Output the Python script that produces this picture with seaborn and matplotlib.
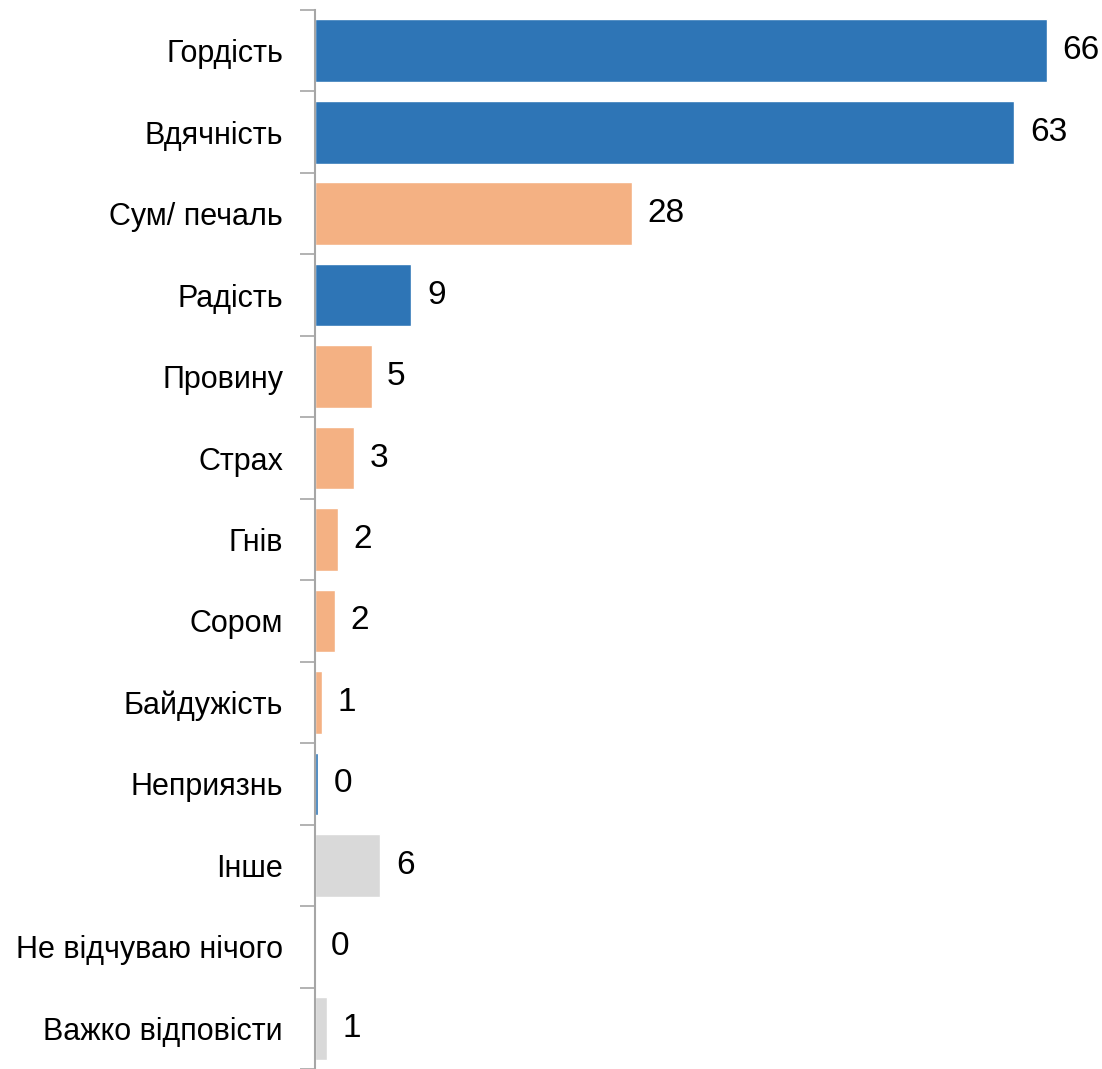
import numpy as np
import pandas as pd
import seaborn as sns
import matplotlib.pyplot as plt
from matplotlib import font_manager

# ---------------------- Data ------------------------
categories = ["Гордість", "Вдячність", "Сум/ печаль", "Радість", "Провину", "Страх",
              "Гнів", "Сором", "Байдужість", "Неприязнь", "Інше",
              "Не відчуваю нічого", "Важко відповісти"]
values = [66.0, 63.1, 28.6, 8.7, 5.1, 3.5, 2.1, 1.8, 0.6, 0.3, 5.9, 0.0, 1.1]
value_labels = ["66", "63", "28", "9", "5", "3", "2", "2", "1", "0", "6", "0", "1"]
groups = ["pos", "pos", "neg", "pos", "neg", "neg", "neg", "neg", "neg", "pos",
          "other", "other", "other"]

colors = {"pos": "#2E75B6", "neg": "#F4B183", "other": "#D9D9D9"}

df = pd.DataFrame({"category": categories, "value": values, "group": groups})

# ---------------------- Style -----------------------
sns.set_style("white")
names = {f.name for f in font_manager.fontManager.ttflist}
if "Liberation Sans Narrow" in names:
    fam, fs, fs_val = "Liberation Sans Narrow", 25, 26
else:
    fam, fs, fs_val = "Liberation Sans", 22, 24
plt.rcParams["font.family"] = [fam, "DejaVu Sans"]

fig = plt.figure(figsize=(11.02, 10.69), dpi=100)
ax = fig.add_axes([315 / 1102, 0.0, 1 - 315 / 1102, 1 - 10 / 1069])

sns.barplot(data=df, x="value", y="category", hue="group", palette=colors,
            dodge=False, legend=False, width=0.77, saturation=1, ax=ax, order=categories)

ax.set_xlim(0, 71)
ax.set_ylim(len(categories) - 0.5, -0.5)
ax.set_xlabel("")
ax.set_ylabel("")
ax.set_xticks([])

# ticks between categories
ax.set_yticks(np.arange(-0.5, len(categories), 1.0), minor=True)
ax.set_yticks(range(len(categories)))
ax.set_yticklabels(categories, fontsize=fs, color="black")
ax.tick_params(axis="y", which="major", length=0, pad=23)
ax.tick_params(axis="y", which="minor", length=11, width=1.2, color="#A6A6A6", left=True)

for side in ["top", "right", "bottom"]:
    ax.spines[side].set_visible(False)
ax.spines["left"].set_color("#A6A6A6")
ax.spines["left"].set_linewidth(1.5)

for i, (v, lab) in enumerate(zip(values, value_labels)):
    ax.text(v + 1.4, i, lab, va="center", ha="left", fontsize=fs_val, color="black")

plt.savefig("out.png", dpi=100)
